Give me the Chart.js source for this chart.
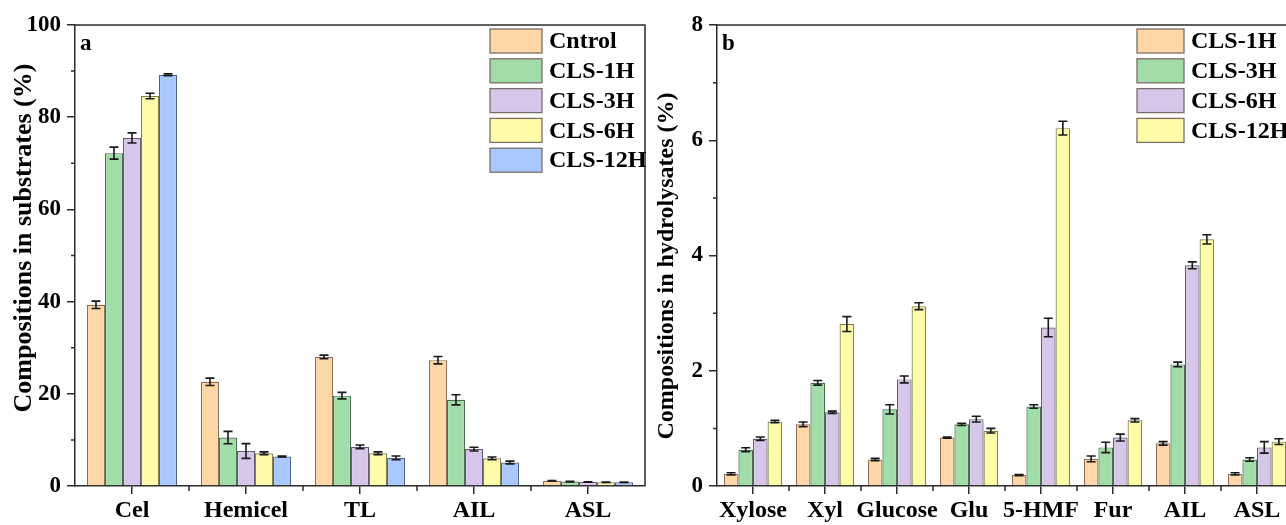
<!DOCTYPE html>
<html>
<head>
<meta charset="utf-8">
<script src="https://cdn.jsdelivr.net/npm/chart.js@4.4.0/dist/chart.umd.min.js"></script>
<style>
body{margin:0;background:#fff;overflow:hidden;width:1286px;height:525px;position:relative}
#boxA{position:absolute;left:0;top:0;width:655px;height:525px}
#boxB{position:absolute;left:655px;top:0;width:655px;height:525px}
</style>
</head>
<body>
<div id="boxA"><canvas id="chartA" width="655" height="525"></canvas></div>
<div id="boxB"><canvas id="chartB" width="655" height="525"></canvas></div>
<script>
// ---- panel a : compositions in substrates ----
var subCats = ['Cel', 'Hemicel', 'TL', 'AIL', 'ASL'];
var subNames = ['Cntrol', 'CLS-1H', 'CLS-3H', 'CLS-6H', 'CLS-12H'];
var subCntrol = [39.3, 22.6, 28.0, 27.3, 1.15];
var subCLS1H  = [72.2, 10.5, 19.6, 18.7, 0.95];
var subCLS3H  = [75.5, 7.6, 8.5, 8.0, 0.85];
var subCLS6H  = [84.6, 7.1, 7.1, 6.0, 0.8];
var subCLS12H = [89.2, 6.4, 6.1, 5.1, 0.8];
var subErrCntrol = [0.8, 0.8, 0.4, 0.8, 0.05];
var subErrCLS1H  = [1.3, 1.35, 0.7, 1.1, 0.05];
var subErrCLS3H  = [1.1, 1.6, 0.4, 0.4, 0.05];
var subErrCLS6H  = [0.6, 0.3, 0.3, 0.3, 0.05];
var subErrCLS12H = [0.2, 0.1, 0.4, 0.3, 0.05];
var subTicks = [0, 20, 40, 60, 80, 100];

// ---- panel b : compositions in hydrolysates ----
var hydCats = ['Xylose', 'Xyl', 'Glucose', 'Glu', '5-HMF', 'Fur', 'AIL', 'ASL'];
var hydNames = ['CLS-1H', 'CLS-3H', 'CLS-6H', 'CLS-12H'];
var hydCLS1H  = [0.21, 1.07, 0.46, 0.84, 0.19, 0.47, 0.74, 0.21];
var hydCLS3H  = [0.63, 1.79, 1.33, 1.07, 1.38, 0.67, 2.11, 0.46];
var hydCLS6H  = [0.82, 1.28, 1.85, 1.16, 2.75, 0.84, 3.83, 0.67];
var hydCLS12H = [1.12, 2.81, 3.12, 0.96, 6.21, 1.14, 4.28, 0.77];
var hydErrCLS1H  = [0.02, 0.04, 0.02, 0.01, 0.01, 0.05, 0.03, 0.02];
var hydErrCLS3H  = [0.035, 0.04, 0.08, 0.02, 0.03, 0.09, 0.04, 0.03];
var hydErrCLS6H  = [0.03, 0.02, 0.06, 0.05, 0.16, 0.06, 0.06, 0.1];
var hydErrCLS12H = [0.02, 0.13, 0.06, 0.04, 0.12, 0.03, 0.08, 0.05];
var hydTicks = [0, 2, 4, 6, 8];

// colours (fill / edge)
var peach = ['#FFD6A5', '#8C6E55'];
var green = ['#A0DDA8', '#4A6E50'];
var lilac = ['#D8C6EA', '#655A75'];
var lemon = ['#FFFBA8', '#837F50'];
var sky   = ['#A8C8FF', '#4C6285'];

var FONT = "'Liberation Serif', 'Times New Roman', serif";
var INK = '#2b2b2b';

function makeSet(name, vals, errs, col) {
  return {
    label: name,
    data: vals,
    err: errs,
    backgroundColor: col[0],
    borderColor: col[1],
    borderWidth: 1.2,
    categoryPercentage: 0.79,
    barPercentage: 1.0
  };
}

// error bars, frame, minor ticks, axis title, legend and panel letter
var extrasPlugin = {
  id: 'extras',
  afterDatasetsDraw: function(chart) {
    var ctx = chart.ctx;
    var ys = chart.scales.y;
    ctx.save();
    ctx.strokeStyle = '#1a1a1a';
    ctx.lineWidth = 1.6;
    chart.data.datasets.forEach(function(ds, di) {
      var meta = chart.getDatasetMeta(di);
      meta.data.forEach(function(bar, i) {
        var v = ds.data[i], e = ds.err[i];
        var yt = ys.getPixelForValue(v + e);
        var yb = ys.getPixelForValue(v - e);
        var x = bar.x, cap = 4.5;
        ctx.beginPath();
        ctx.moveTo(x, yt); ctx.lineTo(x, yb);
        ctx.moveTo(x - cap, yt); ctx.lineTo(x + cap, yt);
        ctx.moveTo(x - cap, yb); ctx.lineTo(x + cap, yb);
        ctx.stroke();
      });
    });
    ctx.restore();
  },
  afterDraw: function(chart, args, opts) {
    var ctx = chart.ctx;
    var a = chart.chartArea;
    var ys = chart.scales.y, xs = chart.scales.x;
    ctx.save();
    ctx.strokeStyle = INK;
    ctx.lineWidth = 1.5;
    // top and right of the frame
    ctx.beginPath();
    ctx.moveTo(a.left, a.top); ctx.lineTo(a.right, a.top); ctx.lineTo(a.right, a.bottom);
    ctx.stroke();
    // minor y ticks
    ctx.beginPath();
    for (var k = 0; k < opts.minor.length; k++) {
      var py = ys.getPixelForValue(opts.minor[k]);
      ctx.moveTo(a.left - 4, py); ctx.lineTo(a.left, py);
    }
    // minor x ticks between categories
    var n = chart.data.labels.length;
    for (var i = 0; i < n - 1; i++) {
      var px = (xs.getPixelForTick(i) + xs.getPixelForTick(i + 1)) / 2;
      ctx.moveTo(px, a.bottom); ctx.lineTo(px, a.bottom + 5);
    }
    ctx.stroke();
    // y axis title
    ctx.fillStyle = '#000';
    ctx.save();
    ctx.translate(opts.titleX, opts.titleY);
    ctx.rotate(-Math.PI / 2);
    ctx.font = 'bold ' + opts.titleSize + 'px ' + FONT;
    ctx.textAlign = 'center';
    ctx.textBaseline = 'middle';
    ctx.fillText(opts.title, 0, 0);
    ctx.restore();
    // panel letter
    ctx.font = 'bold 23px ' + FONT;
    ctx.textBaseline = 'alphabetic';
    ctx.textAlign = 'left';
    ctx.fillText(opts.letter, a.left + 5, a.top + 25);
    // legend
    var lx = a.left + opts.legX;
    chart.data.datasets.forEach(function(ds, di) {
      var top = a.top + 4 + di * 29.8;
      ctx.fillStyle = ds.backgroundColor;
      ctx.fillRect(lx, top, opts.boxW, 24);
      ctx.strokeStyle = '#7a6e66';
      ctx.lineWidth = 1.3;
      ctx.strokeRect(lx, top, opts.boxW, 24);
      ctx.fillStyle = '#000';
      ctx.font = 'bold 24px ' + FONT;
      ctx.textBaseline = 'middle';
      ctx.fillText(ds.label, lx + opts.boxW + 7, top + 13);
    });
    ctx.restore();
  }
};

function baseOptions(maxY, step, yWidth, padTop, padRight, catPct) {
  return {
    responsive: false,
    animation: false,
    layout: { padding: { left: 0, top: padTop, right: padRight, bottom: 0 } },
    plugins: { legend: { display: false }, tooltip: { enabled: false } },
    datasets: { bar: { categoryPercentage: catPct, barPercentage: 1.0 } },
    scales: {
      x: {
        grid: { offset: false, drawOnChartArea: false, tickLength: 8, color: INK, lineWidth: 1.5 },
        border: { color: INK, width: 1.5 },
        ticks: { color: '#000', font: { family: FONT, size: 24, weight: 'bold' }, padding: 2, maxRotation: 0, autoSkip: false },
        afterFit: function(s) { s.height = 39; }
      },
      y: {
        min: 0, max: maxY,
        grid: { drawOnChartArea: false, tickLength: 8, color: INK, lineWidth: 1.5 },
        border: { color: INK, width: 1.5 },
        ticks: { stepSize: step, color: '#000', font: { family: FONT, size: 23, weight: 'bold' }, padding: 6 },
        afterFit: function(s) { s.width = yWidth; }
      }
    }
  };
}

var setsA = [
  makeSet(subNames[0], subCntrol, subErrCntrol, peach),
  makeSet(subNames[1], subCLS1H, subErrCLS1H, green),
  makeSet(subNames[2], subCLS3H, subErrCLS3H, lilac),
  makeSet(subNames[3], subCLS6H, subErrCLS6H, lemon),
  makeSet(subNames[4], subCLS12H, subErrCLS12H, sky)
];
var optA = baseOptions(subTicks[subTicks.length - 1], subTicks[1] - subTicks[0], 75, 25, 10, 0.79);
optA.plugins.extras = { letter: 'a', minor: [10, 30, 50, 70, 90], legX: 415, boxW: 52,
  title: 'Compositions in substrates (%)', titleX: 24, titleY: 238, titleSize: 26 };
new Chart(document.getElementById('chartA').getContext('2d'), {
  type: 'bar',
  data: { labels: subCats, datasets: setsA },
  options: optA,
  plugins: [extrasPlugin]
});

var setsB = [
  makeSet(hydNames[0], hydCLS1H, hydErrCLS1H, peach),
  makeSet(hydNames[1], hydCLS3H, hydErrCLS3H, green),
  makeSet(hydNames[2], hydCLS6H, hydErrCLS6H, lilac),
  makeSet(hydNames[3], hydCLS12H, hydErrCLS12H, lemon)
];
setsB.forEach(function(d) { d.categoryPercentage = 0.81; });
var optB = baseOptions(hydTicks[hydTicks.length - 1], hydTicks[1] - hydTicks[0], 62, 25, 17, 0.81);
optB.plugins.extras = { letter: 'b', minor: [1, 3, 5, 7], legX: 420, boxW: 47,
  title: 'Compositions in hydrolysates (%)', titleX: 12, titleY: 266, titleSize: 24 };
new Chart(document.getElementById('chartB').getContext('2d'), {
  type: 'bar',
  data: { labels: hydCats, datasets: setsB },
  options: optB,
  plugins: [extrasPlugin]
});
</script>
</body>
</html>
